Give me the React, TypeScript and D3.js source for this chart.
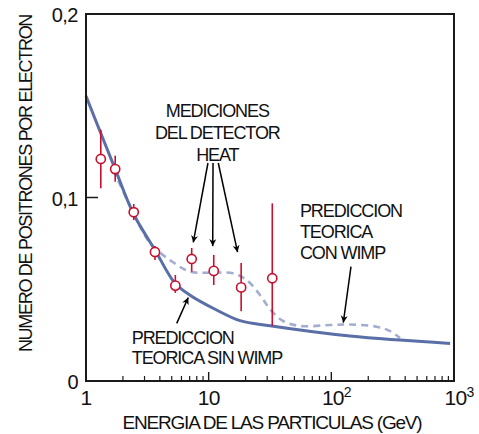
import React from 'react';
import * as d3 from 'd3';

// measured points (HEAT detector)
const energyGeV = [1.32, 1.73, 2.45, 3.65, 5.35, 7.27, 11.0, 18.4, 33.0];
const ratio = [0.121, 0.1155, 0.092, 0.0703, 0.052, 0.0665, 0.060, 0.051, 0.056];
const errLow = [0.105, 0.1086, 0.0877, 0.0659, 0.048, 0.0596, 0.0523, 0.038, 0.030];
const errHigh = [0.137, 0.1228, 0.0965, 0.0736, 0.0578, 0.0725, 0.0687, 0.0643, 0.0968];

// theory without WIMP (solid)
const sinX = [1, 1.32, 1.72, 2.43, 3.65, 5.3, 7.0, 11.6, 18, 31.6, 142, 930];
const sinY = [0.1553, 0.135, 0.1159, 0.0913, 0.0714, 0.0534, 0.0469, 0.0387, 0.0329, 0.0301, 0.0245, 0.0205];

// theory with WIMP (dashed)
const conX = [1.67, 2.42, 3.32, 4.84, 7.04, 10.25, 15.8, 20.4, 26.2, 31.6, 40.4, 55.5, 97.5, 142, 234, 301, 363];
const conY = [0.115, 0.0921, 0.0752, 0.0659, 0.0596, 0.059, 0.0587, 0.055, 0.0469, 0.0392, 0.0327, 0.030, 0.0305, 0.0308, 0.0296, 0.0272, 0.0234];

const yTicks = [0, 0.1, 0.2];
const yTickLabels = ['0', '0,1', '0,2'];
const xMajor = [1, 10, 100, 1000];
const xMajorBase = ['1', '10', '10', '10'];
const xMajorExp = ['', '', '2', '3'];

// annotations (data coordinates)
const heatLines = ['MEDICIONES', 'DEL DETECTOR', 'HEAT'];
const heatAt = [11.76, 0.1439];
const heatFrom = [[9.87, 0.1188], [10.85, 0.1188], [11.98, 0.1188]];
const heatTo = [[7.49, 0.0755], [10.79, 0.0735], [17.2, 0.0702]];
const conLines = ['PREDICCION', 'TEORICA', 'CON WIMP'];
const conAt = [55.5, 0.0894];
const conFrom = [144.6, 0.0623];
const conTo = [125.2, 0.0318];
const sinLines = ['PREDICCION', 'TEORICA SIN WIMP'];
const sinAt = [2.36, 0.0202];
const sinFrom = [5.49, 0.0314];
const sinTo = [6.82, 0.0455];

const W = 479;
const H = 434;
const margin = { top: 14, right: 25, bottom: 53, left: 86 };

const font = '"Liberation Sans", Arial, Helvetica, sans-serif';
const red = '#c8102e';

export default function App() {
  const x = d3.scaleLog().domain([1, 1000]).range([margin.left, W - margin.right]);
  const y = d3.scaleLinear().domain([0, 0.2]).range([H - margin.bottom, margin.top]);

  const line = d3.line<[number, number]>()
    .x(d => x(d[0]))
    .y(d => y(d[1]))
    .curve(d3.curveCatmullRom.alpha(0.5));

  const sinPath = line(sinX.map((v, i) => [v, sinY[i]]));
  const conPath = line(conX.map((v, i) => [v, conY[i]]));

  const minor: number[] = [];
  [1, 10, 100].forEach(b => {
    for (let k = 2; k <= 9; k++) minor.push(b * k);
  });

  const arrow = (from: number[], to: number[], key: string) => (
    <line key={key} x1={x(from[0])} y1={y(from[1])} x2={x(to[0])} y2={y(to[1])}
      stroke="#000" strokeWidth={1.5} markerEnd="url(#head)" />
  );

  const textStyle = { fontFamily: font, fontSize: 18, letterSpacing: -1.1 };

  return (
    <svg width={W} height={H} style={{ position: 'absolute', left: 0, top: 0, background: '#fff' }}>
      <defs>
        <marker id="head" viewBox="0 0 10 10" refX={10} refY={5} markerWidth={7} markerHeight={9}
          markerUnits="userSpaceOnUse" orient="auto">
          <path d="M0,0 L10,5 L0,10 L3,5 Z" fill="#000" />
        </marker>
      </defs>

      {/* curves */}
      <path d={conPath || ''} fill="none" stroke="#a2aed0" strokeWidth={2.6} strokeDasharray="7 5" />
      <path d={sinPath || ''} fill="none" stroke="#5a6ea7" strokeWidth={3} />

      {/* measurements */}
      {energyGeV.map((e, i) => (
        <g key={'p' + i}>
          <line x1={x(e)} x2={x(e)} y1={y(errLow[i])} y2={y(errHigh[i])} stroke={red} strokeWidth={1.6} />
          <circle cx={x(e)} cy={y(ratio[i])} r={4.6} fill="#fff" stroke={red} strokeWidth={1.6} />
        </g>
      ))}

      {/* frame */}
      <rect x={margin.left} y={margin.top} width={W - margin.left - margin.right}
        height={H - margin.top - margin.bottom} fill="none" stroke="#1a1a1a" strokeWidth={2} />

      {/* x ticks */}
      {minor.map(v => (
        <line key={'m' + v} x1={x(v)} x2={x(v)} y1={y(0)} y2={y(0) - 5} stroke="#1a1a1a" strokeWidth={1.2} />
      ))}
      {[10, 100].map(v => (
        <line key={'M' + v} x1={x(v)} x2={x(v)} y1={y(0)} y2={y(0) - 9} stroke="#1a1a1a" strokeWidth={1.4} />
      ))}
      {xMajor.map((v, i) => (
        <text key={'xl' + v} x={x(v) + (xMajorExp[i] ? 5 : 0)} y={405} textAnchor="middle"
          style={{ fontFamily: font, fontSize: 21, letterSpacing: -0.8 }} fill="#111">
          {xMajorBase[i]}
          {xMajorExp[i] && <tspan dy={-8} style={{ fontSize: 14 }}>{xMajorExp[i]}</tspan>}
        </text>
      ))}

      {/* y ticks */}
      <line x1={margin.left} x2={margin.left + 12} y1={y(0.1)} y2={y(0.1)} stroke="#1a1a1a" strokeWidth={1.5} />
      {yTicks.map((v, i) => (
        <text key={'yl' + v} x={78} y={y(v)} dy="0.42em" textAnchor="end"
          style={{ fontFamily: font, fontSize: 20, letterSpacing: -0.5 }} fill="#111">
          {yTickLabels[i]}
        </text>
      ))}

      {/* axis titles */}
      <text x={272} y={429} textAnchor="middle" style={{ ...textStyle, fontSize: 19, letterSpacing: -1.2 }} fill="#111">
        ENERGIA DE LAS PARTICULAS (GeV)
      </text>
      <text transform={`translate(32,${(margin.top + 3 + 350) / 2}) rotate(-90)`} textAnchor="middle"
        style={{ ...textStyle, fontSize: 18, letterSpacing: -1.3 }} fill="#111">
        NUMERO DE POSITRONES POR ELECTRON
      </text>

      {/* annotations */}
      {heatLines.map((t, i) => (
        <text key={'h' + i} x={x(heatAt[0])} y={y(heatAt[1]) + i * 22} textAnchor="middle" style={textStyle} fill="#111">{t}</text>
      ))}
      {heatFrom.map((f, i) => arrow(f, heatTo[i], 'ha' + i))}

      {conLines.map((t, i) => (
        <text key={'c' + i} x={x(conAt[0])} y={y(conAt[1]) + i * 21} style={textStyle} fill="#111">{t}</text>
      ))}
      {arrow(conFrom, conTo, 'ca')}

      {sinLines.map((t, i) => (
        <text key={'s' + i} x={x(sinAt[0])} y={y(sinAt[1]) + i * 20} style={textStyle} fill="#111">{t}</text>
      ))}
      {arrow(sinFrom, sinTo, 'sa')}
    </svg>
  );
}
